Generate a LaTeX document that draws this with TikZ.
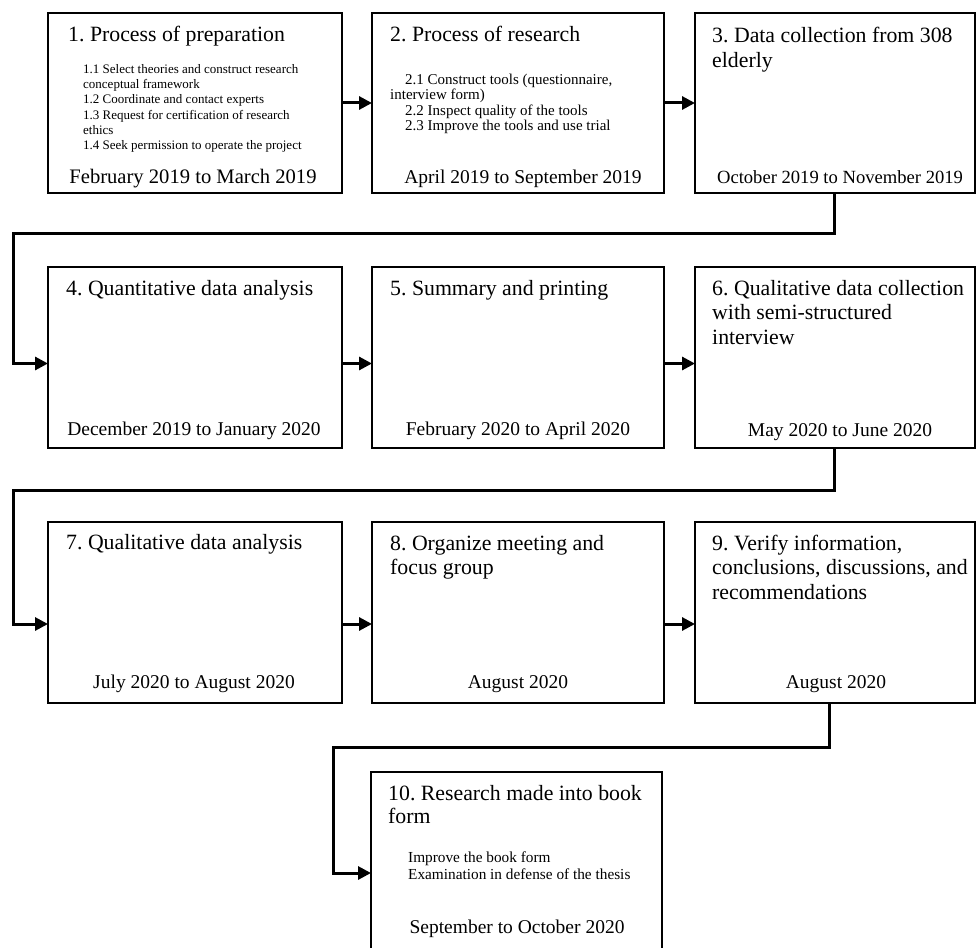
\documentclass[tikz,border=0pt]{standalone}
\usepackage{fontspec}
\setmainfont{Liberation Serif}
\usetikzlibrary{arrows.meta}

\begin{document}
\frenchspacing
\begin{tikzpicture}[x=1pt,y=-1pt,
  stepbox/.style={draw, line width=2pt, fill=white, inner sep=0pt, outer sep=0pt, anchor=north west},
  ttl/.style={anchor=base west, inner sep=0pt, font=\fontsize{21.8}{24.5}\selectfont},
  period/.style={anchor=base, inner sep=0pt, font=\fontsize{19.5}{22}\selectfont},
  sub/.style={anchor=base west, inner sep=0pt, font=\fontsize{#1}{#1}\selectfont},
  arr/.style={line width=3pt, -{Triangle[length=13pt,width=13pt]}}]

\useasboundingbox (0,0) rectangle (976,947);
\fill[white] (0,0) rectangle (976,947);

% ---- boxes ----
\node[stepbox, minimum width=294pt, minimum height=180pt] (b1) at (48,13) {};
\node[stepbox, minimum width=292pt, minimum height=180pt] (b2) at (372,13) {};
\node[stepbox, minimum width=280pt, minimum height=180pt] (b3) at (695,13) {};
\node[stepbox, minimum width=294pt, minimum height=181pt] (b4) at (48,267) {};
\node[stepbox, minimum width=292pt, minimum height=181pt] (b5) at (372,267) {};
\node[stepbox, minimum width=280pt, minimum height=181pt] (b6) at (695,267) {};
\node[stepbox, minimum width=294pt, minimum height=181pt] (b7) at (48,522) {};
\node[stepbox, minimum width=292pt, minimum height=181pt] (b8) at (372,522) {};
\node[stepbox, minimum width=280pt, minimum height=181pt] (b9) at (695,522) {};
\node[stepbox, minimum width=291pt, minimum height=190pt] (b10) at (371,772) {};

% ---- titles ----
\node[ttl] (t1) at (68,42) {1. Process of preparation};
\node[ttl] (t2) at (390,42) {2. Process of research};
\foreach \s [count=\i] in {{3. Data collection from 308},{elderly}}
  \node[ttl] (t3-\i) at (712,{43+24.5*(\i-1)}) {\s};
\node[ttl] (t4) at (66,295) {4. Quantitative data analysis};
\node[ttl] (t5) at (390,295) {5. Summary and printing};
\foreach \s [count=\i] in {{6. Qualitative data collection},{with semi-structured},{interview}}
  \node[ttl] (t6-\i) at (712,{295+24.5*(\i-1)}) {\s};
\node[ttl] (t7) at (66,549) {7. Qualitative data analysis};
\foreach \s [count=\i] in {{8. Organize meeting and},{focus group}}
  \node[ttl] (t8-\i) at (390,{550+24.5*(\i-1)}) {\s};
\foreach \s [count=\i] in {{9. Verify information,},{conclusions, discussions, and},{recommendations}}
  \node[ttl] (t9-\i) at (712,{550+24.5*(\i-1)}) {\s};
\foreach \s [count=\i] in {{10. Research made into book},{form}}
  \node[ttl] (t10-\i) at (388,{800+23.5*(\i-1)}) {\s};

% ---- sub-steps ----
\foreach \s [count=\i] in {{1.1 Select theories and construct research},{conceptual framework},
    {1.2 Coordinate and contact experts},{1.3 Request for certification of research},
    {ethics},{1.4 Seek permission to operate the project}}
  \node[sub=13] (s1-\i) at (83,{74+15*(\i-1)}) {\s};
\node[sub=15] (s2-1) at (405,85) {2.1 Construct tools (questionnaire,};
\node[sub=15] (s2-2) at (390,100) {interview form)};
\node[sub=15] (s2-3) at (405,115) {2.2 Inspect quality of the tools};
\node[sub=15] (s2-4) at (405,130) {2.3 Improve the tools and use trial};
\node[sub=15.3] (s10-1) at (408,862) {Improve the book form};
\node[sub=15.3] (s10-2) at (408,879) {Examination in defense of the thesis};

% ---- periods ----
\node[period, font=\fontsize{20.6}{22}\selectfont] (p1) at (193,183) {February 2019 to March 2019};
\node[period] (p2) at (523,183) {April 2019 to September 2019};
\node[period, font=\fontsize{18.6}{22}\selectfont] (p3) at (840,183) {October 2019 to November 2019};
\node[period] (p4) at (194,435) {December 2019 to January 2020};
\node[period] (p5) at (518,435) {February 2020 to April 2020};
\node[period] (p6) at (840,436) {May 2020 to June 2020};
\node[period] (p7) at (194,688) {July 2020 to August 2020};
\node[period] (p8) at (518,688) {August 2020};
\node[period] (p9) at (836,688) {August 2020};
\node[period] (p10) at (517,933) {September to October 2020};

% ---- connectors within a row ----
\draw[arr] (b1.east) -- (b1.east -| b2.west);
\draw[arr] (b2.east) -- (b2.east -| b3.west);
\draw[arr] ([yshift=-6pt]b4.east) -- ([yshift=-6pt]b4.east -| b5.west);
\draw[arr] ([yshift=-6pt]b5.east) -- ([yshift=-6pt]b5.east -| b6.west);
\draw[arr] ([yshift=-11.5pt]b7.east) -- ([yshift=-11.5pt]b7.east -| b8.west);
\draw[arr] ([yshift=-11.5pt]b8.east) -- ([yshift=-11.5pt]b8.east -| b9.west);

% ---- connectors wrapping to the next row ----
\coordinate (w1a) at (834,233);
\coordinate (w1b) at (13,233);
\draw[arr] (b3.south -| w1a) -- (w1a) -- (w1b) |- ([yshift=-6pt]b4.west);
\coordinate (w2a) at (834,490);
\coordinate (w2b) at (13,490);
\draw[arr] (b6.south -| w2a) -- (w2a) -- (w2b) |- ([yshift=-11.5pt]b7.west);
\coordinate (w3a) at (829,747);
\coordinate (w3b) at (333,747);
\draw[arr] (b9.south -| w3a) -- (w3a) -- (w3b) |- ([yshift=-6pt]b10.west);

\end{tikzpicture}
\end{document}
